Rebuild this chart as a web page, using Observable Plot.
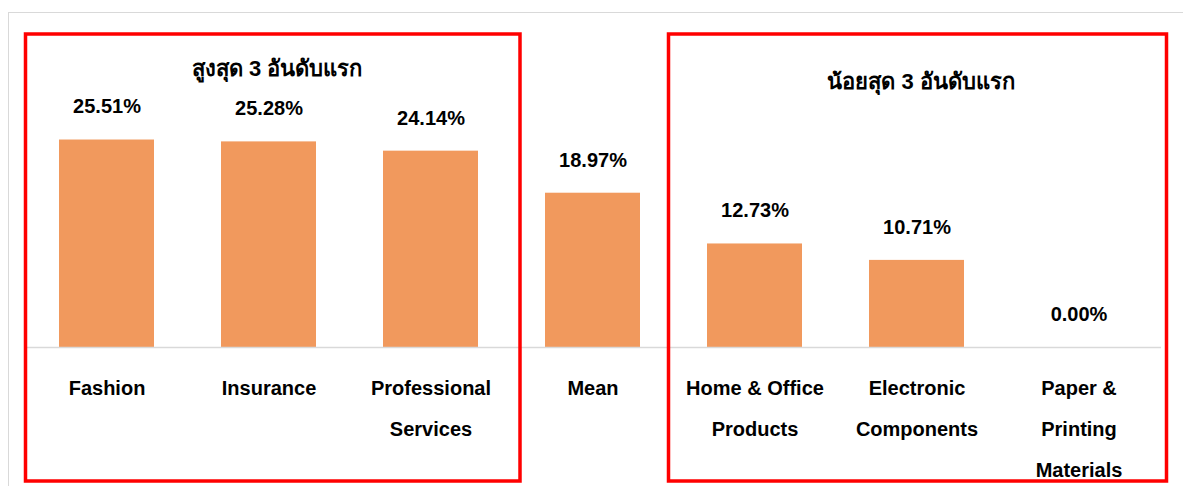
<!DOCTYPE html>
<html>
<head>
<meta charset="utf-8">
<script src="https://cdn.jsdelivr.net/npm/d3@7"></script>
<script src="https://cdn.jsdelivr.net/npm/@observablehq/plot@0.6"></script>
<style>
  html, body { margin: 0; padding: 0; background: #fff; }
  #wrap { position: relative; width: 1183px; height: 486px; overflow: hidden; }
  #frame { position: absolute; left: 8px; top: 12px; width: 1200px; height: 500px;
           border-top: 1px solid #d9d9d9; border-left: 1px solid #d9d9d9; }
  #chart { position: absolute; left: 0; top: 0; }
  svg { font-family: "Liberation Sans", Arial, "Noto Sans", sans-serif; }
</style>
</head>
<body>
<div id="wrap"><div id="frame"></div><div id="chart"></div></div>
<script>
const categories = ["Fashion", "Insurance", "Professional Services", "Mean",
  "Home & Office Products", "Electronic Components", "Paper & Printing Materials"];
const tickLabels = ["Fashion", "Insurance", "Professional\nServices", "Mean",
  "Home & Office\nProducts", "Electronic\nComponents", "Paper &\nPrinting\nMaterials"];
const values = [25.51, 25.28, 24.14, 18.97, 12.73, 10.71, 0.00];
const groupTitles = ["สูงสุด 3 อันดับแรก", "น้อยสุด 3 อันดับแรก"];
const groupTitleAt = ["Insurance", "Electronic Components"];
const groupMembers = [["Fashion", "Professional Services"], ["Home & Office Products", "Paper & Printing Materials"]];

const data = categories.map((c, i) => ({category: c, value: values[i]}));
const labelOf = new Map(categories.map((c, i) => [c, tickLabels[i]]));
const titles = groupTitles.map((t, i) => ({title: t, category: groupTitleAt[i]}));

const plot = Plot.plot({
  width: 1183,
  height: 486,
  marginLeft: 24,
  marginRight: 22,
  marginTop: 103,
  marginBottom: 139,
  style: {fontFamily: '"Liberation Sans", Arial, sans-serif', overflow: "visible"},
  x: {domain: categories, paddingInner: 0.415, paddingOuter: 0.2075, label: null},
  y: {domain: [0, 30], axis: null},
  marks: [
    Plot.barY(data, {x: "category", y: "value", fill: "#F1995D"}),
    Plot.ruleY([0], {stroke: "#d9d9d9", strokeWidth: 1.5}),
    Plot.axisX({tickSize: 0, tickPadding: 18, fontSize: 20, fontWeight: "bold", lineHeight: 2.05,
      tickFormat: d => labelOf.get(d), fill: "#000", textOverflow: null}),
    Plot.text(data, {x: "category", y: "value", text: d => d.value.toFixed(2) + "%", dy: -33,
      fontSize: 20, fontWeight: "bold", fill: "#000"}),
    Plot.text(titles.slice(0, 1), {x: "category", text: "title", frameAnchor: "top", dy: -43, dx: 8,
      fontSize: 22, fontWeight: "bold", fill: "#000"}),
    Plot.text(titles.slice(1), {x: "category", text: "title", frameAnchor: "top", dy: -30, dx: 4,
      fontSize: 22, fontWeight: "bold", fill: "#000"})
  ]
});
document.getElementById("chart").appendChild(plot);

// red highlight boxes derived from the x band scale
const xs = plot.scale("x");
const half = (xs.step - xs.bandwidth) / 2;
const ns = "http://www.w3.org/2000/svg";
const offsets = [[0, 8.5], [-5, 7]];
groupMembers.forEach(([a, b], i) => {
  const x1 = xs.apply(a) - half + offsets[i][0];
  const x2 = xs.apply(b) + xs.bandwidth + half + offsets[i][1];
  const r = document.createElementNS(ns, "rect");
  r.setAttribute("x", x1);
  r.setAttribute("y", 34);
  r.setAttribute("width", x2 - x1);
  r.setAttribute("height", 447);
  r.setAttribute("fill", "none");
  r.setAttribute("stroke", "#ff0000");
  r.setAttribute("stroke-width", 3.5);
  plot.appendChild(r);
});
</script>
</body>
</html>
